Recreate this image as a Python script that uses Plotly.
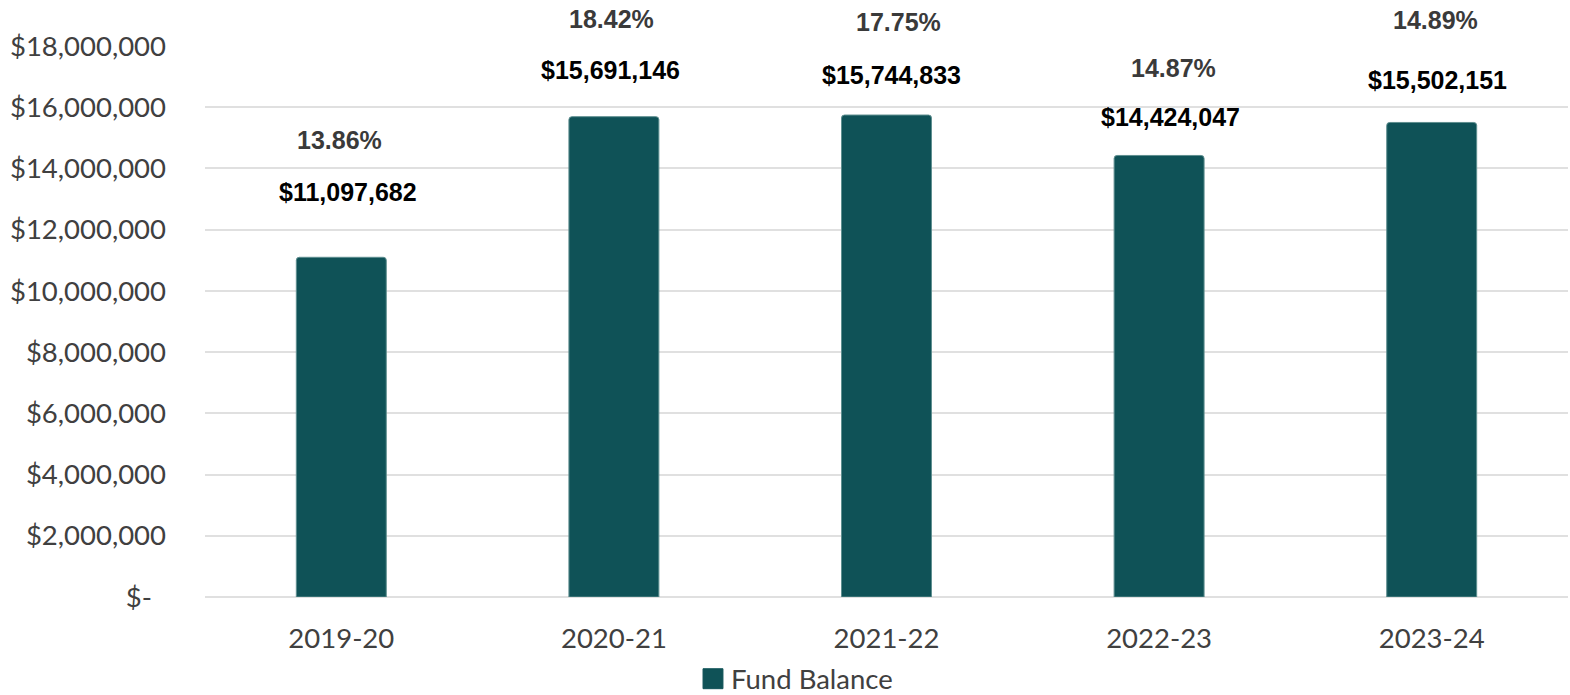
import plotly.graph_objects as go

# Fund balance by fiscal year
years = ["2019-20", "2020-21", "2021-22", "2022-23", "2023-24"]
fund_balance = [11097682, 15691146, 15744833, 14424047, 15502151]
pct_of_expend = [13.86, 18.42, 17.75, 14.87, 14.89]
series_name = "Fund Balance"

y_ticks = list(range(0, 18000001, 2000000))
y_ticktext = ["$-\u00a0\u00a0" if v == 0 else f"${v:,}" for v in y_ticks]

# label offsets (pixels) relative to each bar top
dollar_yshift = [65, 47, 40, 38, 42]
dollar_xshift = [7, -3, 5, 11, 6]
pct_yshift = [117, 98, 93, 87, 102]
pct_xshift = [-2, -2, 12, 14, 4]

BAR = "#0f5257"
TICK_FONT = dict(family="Lato", size=27.5, color="#404040")

fig = go.Figure()
fig.add_trace(go.Bar(
    x=years, y=fund_balance, name=series_name,
    marker=dict(color=BAR, line=dict(color="#5f8f90", width=1), cornerradius=3),
    width=0.33, showlegend=False,
))

for i, (yr, val) in enumerate(zip(years, fund_balance)):
    fig.add_annotation(
        x=yr, y=val, text=f"<b>${val:,}</b>", showarrow=False,
        yanchor="middle", xanchor="center",
        yshift=dollar_yshift[i], xshift=dollar_xshift[i],
        font=dict(family="Liberation Sans", size=25, color="#000000"),
    )
    fig.add_annotation(
        x=yr, y=val, text=f"<b>{pct_of_expend[i]:.2f}%</b>", showarrow=False,
        yanchor="middle", xanchor="center",
        yshift=pct_yshift[i], xshift=pct_xshift[i],
        font=dict(family="Liberation Sans", size=25, color="#3a3a3a"),
    )

# legend key below the axis: swatch + label
fig.add_shape(
    type="rect", xref="paper", yref="paper",
    x0=0.3654, x1=0.3800, y0=-0.1664, y1=-0.1302,
    fillcolor=BAR, line=dict(color=BAR, width=1),
)
fig.add_annotation(
    xref="paper", yref="paper", x=0.3844, y=-0.1483,
    xanchor="left", yanchor="middle", showarrow=False,
    text=series_name, font=dict(family="Lato", size=27.5, color="#404040"),
)

fig.update_layout(
    width=1570, height=695,
    margin=dict(l=205, r=2, t=46, b=98),
    plot_bgcolor="white", paper_bgcolor="white",
    showlegend=False,
)
fig.update_xaxes(
    tickfont=TICK_FONT, showgrid=False, showline=False, ticks="",
    ticklabelstandoff=22, automargin=False,
)
fig.update_yaxes(
    range=[0, 18000000], tickvals=y_ticks, ticktext=y_ticktext,
    tickfont=TICK_FONT, showgrid=True, gridcolor="#e0e0e0", gridwidth=2,
    zeroline=True, zerolinecolor="#e0e0e0", zerolinewidth=2,
    showline=False, ticks="", ticklabelstandoff=38, automargin=False,
)

fig.write_html("out.html")
